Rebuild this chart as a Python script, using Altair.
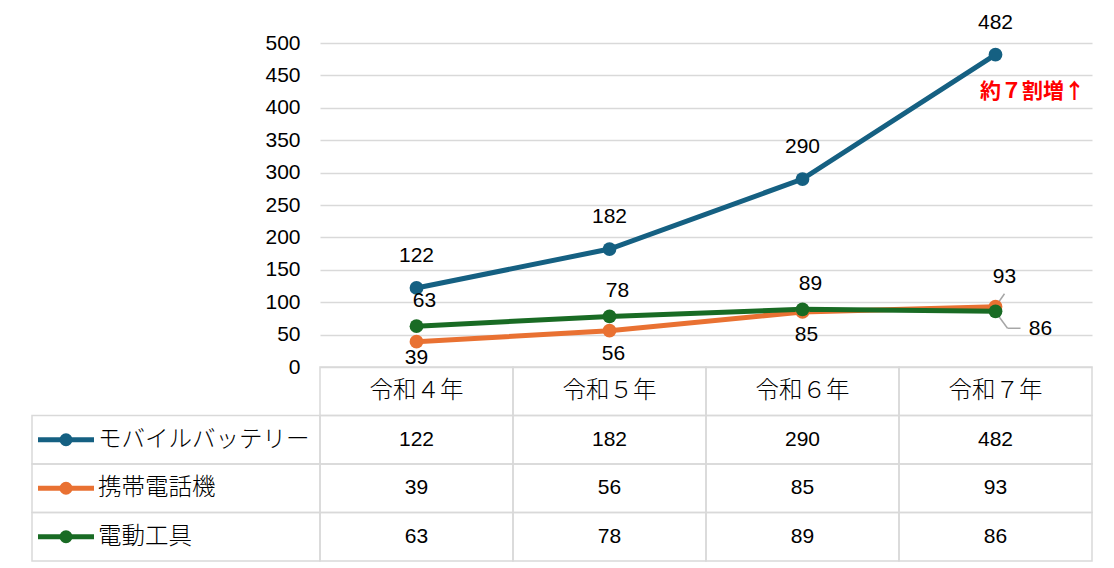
import altair as alt
import pandas as pd

years = ["令和４年", "令和５年", "令和６年", "令和７年"]
series = ["モバイルバッテリー", "携帯電話機", "電動工具"]
mobile_battery = [122, 182, 290, 482]
mobile_phone = [39, 56, 85, 93]
power_tool = [63, 78, 89, 86]
colors = ["#156082", "#E97132", "#196B24"]
y_ticks = [0, 50, 100, 150, 200, 250, 300, 350, 400, 450, 500]
note = "約７割増↑"

NUM_FONT = "Liberation Sans"
JP_FONT = "Noto Sans CJK JP"
GRID = "#d9d9d9"
FIRST = years[0]
LAST = years[-1]

rows = []
for name, vals in zip(series, [mobile_battery, mobile_phone, power_tool]):
    for yr, v in zip(years, vals):
        rows.append({"year": yr, "series": name, "value": v})
df = pd.DataFrame(rows)

color = alt.Color("series:N", scale=alt.Scale(domain=series, range=colors), legend=None)
x_pt = alt.X("year:O", scale=alt.Scale(type="point", domain=years, padding=0.5), axis=None)
y_val = alt.Y("value:Q", scale=alt.Scale(domain=[0, 500], nice=False),
              axis=alt.Axis(values=y_ticks, domain=False, ticks=False, labelPadding=20,
                            labelFont=NUM_FONT, labelFontSize=21, labelColor="#000000",
                            gridColor=GRID, gridWidth=1.5, title=None))

base = alt.Chart(df).encode(x=x_pt, y=y_val)

lines = base.mark_line(strokeWidth=5).encode(color=color)
dots = base.mark_circle(size=190, opacity=1).encode(color=color)

lbl = dict(font=NUM_FONT, fontSize=21, color="#000000")
is_first = alt.datum.year == FIRST
is_last = alt.datum.year == LAST
middle = (alt.datum.year != FIRST) & (alt.datum.year != LAST)

lab_blue = base.mark_text(dy=-32, **lbl).encode(text="value:Q").transform_filter(
    alt.datum.series == series[0])
lab_orange_first = base.mark_text(dy=16, **lbl).encode(text="value:Q").transform_filter(
    (alt.datum.series == series[1]) & is_first)
lab_orange = base.mark_text(dx=4, dy=23, **lbl).encode(text="value:Q").transform_filter(
    (alt.datum.series == series[1]) & middle)
lab_orange_last = base.mark_text(dx=9, dy=-30, **lbl).encode(text="value:Q").transform_filter(
    (alt.datum.series == series[1]) & is_last)
lab_green = base.mark_text(dx=8, dy=-25, **lbl).encode(text="value:Q").transform_filter(
    (alt.datum.series == series[2]) & (alt.datum.year != LAST))
lab_green_last = base.mark_text(dx=45, dy=18, **lbl).encode(text="value:Q").transform_filter(
    (alt.datum.series == series[2]) & is_last)

# leader lines for the two crowded labels at the last year
lead = dict(color="#a6a6a6", strokeWidth=1.5)
seg_enc = dict(x2=alt.X2("year:O"), y2=alt.Y2("value:Q"))
leader_orange = base.mark_rule(xOffset=2, yOffset=-3, x2Offset=9, y2Offset=-13, **lead).encode(
    **seg_enc).transform_filter((alt.datum.series == series[1]) & is_last)
leader_green1 = base.mark_rule(xOffset=1, yOffset=2, x2Offset=12, y2Offset=17, **lead).encode(
    **seg_enc).transform_filter((alt.datum.series == series[2]) & is_last)
leader_green2 = base.mark_rule(xOffset=12, yOffset=17, x2Offset=25, y2Offset=17, **lead).encode(
    **seg_enc).transform_filter((alt.datum.series == series[2]) & is_last)

note_text = base.mark_text(dx=37, dy=37, font=JP_FONT, fontSize=21, fontWeight="bold",
                           color="#ff0000").encode(text=alt.value(note)).transform_filter(
    (alt.datum.series == series[0]) & is_last)

top = alt.layer(leader_orange, leader_green1, leader_green2, lines, dots,
                lab_blue, lab_orange_first, lab_orange, lab_orange_last, lab_green,
                lab_green_last, note_text).properties(width=772, height=324)

# --- data table under the chart ---
HEADER = " "
row_domain = [HEADER] + series
x_band = alt.X("year:N", scale=alt.Scale(domain=years, paddingInner=0, paddingOuter=0), axis=None)
y_band = alt.Y("row:N", scale=alt.Scale(domain=row_domain, paddingInner=0, paddingOuter=0), axis=None)

cells = df.rename(columns={"series": "row"})
head = pd.DataFrame({"year": years, "row": [HEADER] * len(years)})
labels = pd.DataFrame({"row": series, "series": series})

cell_style = dict(fill="#ffffff", fillOpacity=0, stroke=GRID, strokeWidth=1.5)
body_rects = alt.Chart(cells).mark_rect(**cell_style).encode(x=x_band, y=y_band)
head_rects = alt.Chart(head).mark_rect(**cell_style).encode(x=x_band, y=y_band)
label_rects = alt.Chart(labels).mark_rect(**cell_style).encode(
    x=alt.value(-288), x2=alt.value(0), y=y_band)

jp = dict(font=JP_FONT, fontSize=23.5, fontWeight=300, color="#000000")
head_text = alt.Chart(head).mark_text(**jp).encode(x=x_band, y=y_band, text="year:N")
body_text = alt.Chart(cells).mark_text(**lbl).encode(x=x_band, y=y_band, text="value:Q")

key_line = alt.Chart(labels).mark_rule(strokeWidth=5).encode(
    x=alt.value(-282), x2=alt.value(-226), y=y_band, color=color)
key_dot = alt.Chart(labels).mark_circle(size=170, opacity=1).encode(
    x=alt.value(-254), y=y_band, color=color)
key_text = alt.Chart(labels).mark_text(align="left", **jp).encode(
    x=alt.value(-222), y=y_band, text="series:N")

table = alt.layer(label_rects, head_rects, body_rects, head_text, body_text,
                  key_line, key_dot, key_text).properties(width=772, height=194)

chart = alt.vconcat(top, table, spacing=0, bounds="flush").properties(
    padding={"left": 23, "top": 3, "right": 5, "bottom": 5}
).configure_view(stroke=None)

chart.save("out.html", embed_options={"renderer": "svg", "actions": False})
